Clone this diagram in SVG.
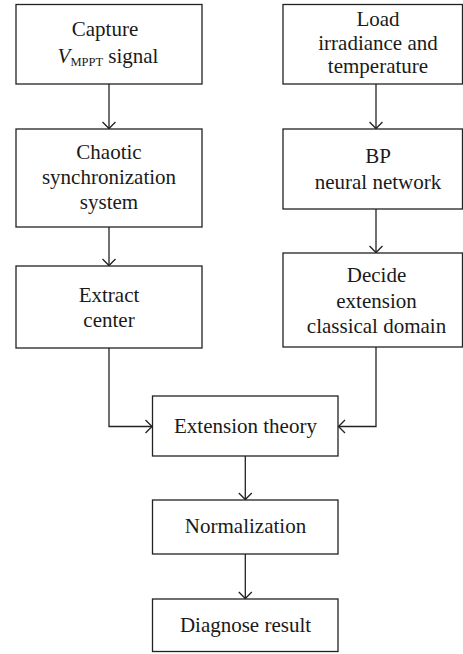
<svg xmlns="http://www.w3.org/2000/svg" width="463" height="654" viewBox="0 0 463 654">
<style>
.box{fill:#fff;stroke:#222;stroke-width:1.3}
.lbl{font-family:"Liberation Serif","Times New Roman",serif;font-size:21px;fill:#1a1a1a;text-anchor:middle}
.con{fill:none;stroke:#222;stroke-width:1.3}
</style>
<defs>
<marker id="arr" markerUnits="userSpaceOnUse" markerWidth="16" markerHeight="16" viewBox="-8 -8 16 16" refX="0" refY="0" orient="auto">
<path d="M-6.5,-6.5 L0,0 L-6.5,6.5" fill="none" stroke="#222" stroke-width="1.3"/>
</marker>
</defs>
<rect width="463" height="654" fill="#fff"/>
<g id="connectors">
<path class="con" d="M109,84 V128.5" marker-end="url(#arr)"/>
<path class="con" d="M109,227 V265.5" marker-end="url(#arr)"/>
<path class="con" d="M109,348 V426.5 H152" marker-end="url(#arr)"/>
<path class="con" d="M376,84 V128.5" marker-end="url(#arr)"/>
<path class="con" d="M376,209 V252.5" marker-end="url(#arr)"/>
<path class="con" d="M376,347 V426.5 H338.5" marker-end="url(#arr)"/>
<path class="con" d="M245.3,456 V499.5" marker-end="url(#arr)"/>
<path class="con" d="M245.3,554 V598.5" marker-end="url(#arr)"/>
</g>
<g id="capture">
<rect class="box" x="16" y="4.5" width="186" height="79.5"/>
<text class="lbl" x="105" y="36">Capture</text>
<text class="lbl" x="108" y="63"><tspan font-style="italic">V</tspan><tspan font-size="12.5" dy="3">MPPT</tspan><tspan dy="-3"> signal</tspan></text>
</g>
<g id="chaotic">
<rect class="box" x="16" y="129" width="186" height="98"/>
<text class="lbl" x="109" y="159.3">Chaotic</text>
<text class="lbl" x="109" y="184.3">synchronization</text>
<text class="lbl" x="109" y="208.5">system</text>
</g>
<g id="extract">
<rect class="box" x="16" y="266" width="186" height="82"/>
<text class="lbl" x="109" y="301.7">Extract</text>
<text class="lbl" x="109" y="327.3">center</text>
</g>
<g id="load">
<rect class="box" x="283" y="4.5" width="179.5" height="79.5"/>
<text class="lbl" x="378" y="26">Load</text>
<text class="lbl" x="378" y="49.5">irradiance and</text>
<text class="lbl" x="378" y="72.5">temperature</text>
</g>
<g id="bp">
<rect class="box" x="283" y="129" width="179.5" height="80"/>
<text class="lbl" x="378" y="163.3">BP</text>
<text class="lbl" x="378" y="189.3">neural network</text>
</g>
<g id="decide">
<rect class="box" x="283" y="253" width="179.5" height="94"/>
<text class="lbl" x="376.5" y="281.7">Decide</text>
<text class="lbl" x="376.5" y="307.7">extension</text>
<text class="lbl" x="376.5" y="333.3">classical domain</text>
</g>
<g id="extension">
<rect class="box" x="152.5" y="396" width="185.5" height="60"/>
<text class="lbl" x="245.5" y="433.3">Extension theory</text>
</g>
<g id="normalization">
<rect class="box" x="152.5" y="500" width="185.5" height="54"/>
<text class="lbl" x="245.5" y="533.3">Normalization</text>
</g>
<g id="diagnose">
<rect class="box" x="152.5" y="599" width="185.5" height="52.5"/>
<text class="lbl" x="245.5" y="631.7">Diagnose result</text>
</g>
</svg>
